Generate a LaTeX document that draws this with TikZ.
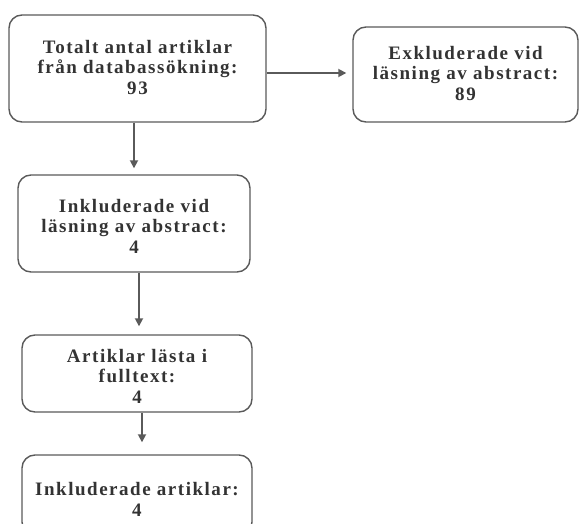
\documentclass[tikz,border=0pt]{standalone}
\usepackage{fontspec}
\setmainfont{Liberation Serif}[LetterSpace=8]
\usetikzlibrary{arrows.meta,calc}
\definecolor{edge}{HTML}{5A5A5A}
\definecolor{ink}{HTML}{333333}
\newcommand{\boxtext}[2]{\raisebox{#1}[\height][\depth]{\begin{tabular}{@{}c@{}}#2\end{tabular}}}
\tikzset{
  box/.style={draw=edge, line width=1.4pt, rounded corners=13pt, fill=white,
    align=center, text=ink, font=\fontsize{19}{20.5}\selectfont\bfseries, inner sep=0pt},
  conn/.style={draw=edge, line width=1.7pt, -{Triangle[length=8pt,width=8pt]}}
}
\begin{document}
\begin{tikzpicture}[x=1pt,y=-1pt]
\renewcommand{\arraystretch}{1}
\useasboundingbox (0,0) rectangle (579,524);
\clip (0,0) rectangle (579,524);
\node[box, minimum width=257pt, minimum height=107pt] (b1) at (137.5,68.5)
  {\boxtext{-1pt}{Totalt antal artiklar\\från databassökning:\\93}};
\node[box, minimum width=225pt, minimum height=95pt] (b2) at (465.5,74.5)
  {\boxtext{-1pt}{Exkluderade vid\\läsning av abstract:\\89}};
\node[box, minimum width=232pt, minimum height=97pt] (b3) at (134,223.5)
  {\boxtext{-5pt}{Inkluderade vid\\läsning av abstract:\\4}};
\node[box, minimum width=230pt, minimum height=77pt] (b4) at (137,373.5)
  {\boxtext{-5pt}{Artiklar lästa i\\fulltext:\\4}};
\node[box, minimum width=230pt, minimum height=80pt] (b5) at (137,495)
  {\boxtext{-7pt}{Inkluderade artiklar:\\4}};
\draw[conn, shorten >=6pt] (b1.east |- 0,73) -- (b2.west |- 0,73);
\draw[conn, shorten >=6pt] (b1.south -| b3.north) -- (b3.north);
\draw[conn, shorten >=8pt] ([xshift=5pt]b3.south) -- ([xshift=2pt]b4.north);
\draw[conn, shorten >=12pt] ([xshift=5pt]b4.south) -- ([xshift=5pt]b5.north);
\end{tikzpicture}
\end{document}
